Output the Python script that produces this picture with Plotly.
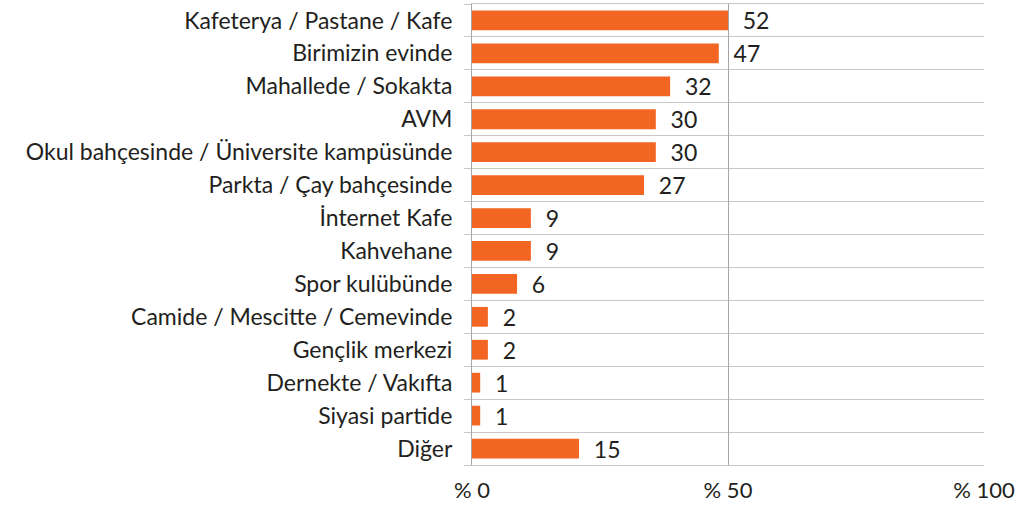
import plotly.graph_objects as go

categories = [
    "Kafeterya / Pastane / Kafe",
    "Birimizin evinde",
    "Mahallede / Sokakta",
    "AVM",
    "Okul bahçesinde / Üniversite kampüsünde",
    "Parkta / Çay bahçesinde",
    "İnternet Kafe",
    "Kahvehane",
    "Spor kulübünde",
    "Camide / Mescitte / Cemevinde",
    "Gençlik merkezi",
    "Dernekte / Vakıfta",
    "Siyasi partide",
    "Diğer",
]
# printed values
labels = [52, 47, 32, 30, 30, 27, 9, 9, 6, 2, 2, 1, 1, 15]
# bar lengths as drawn in the reference (on the % 0 - % 100 axis)
bar_lengths = [50.0, 48.2, 38.7, 35.9, 35.9, 33.6, 11.5, 11.5, 8.8, 3.1, 3.1, 1.6, 1.6, 20.9]
x_tickvals = [0, 50, 100]
x_ticktext = ["% 0", "% 50", "% 100"]

FONT = "Lato"
n = len(categories)
ypos = list(range(n))

fig = go.Figure(go.Bar(
    x=bar_lengths,
    y=ypos,
    orientation="h",
    marker=dict(color="#F26522", line=dict(width=0)),
    text=["  " + str(v) for v in labels],
    textposition="outside",
    constraintext="none",
    textfont=dict(family=FONT, size=23, color="#231F20"),
    cliponaxis=False,
    width=0.6,
    hoverinfo="skip",
))

fig.update_layout(
    width=1023, height=506,
    margin=dict(l=472, r=39, t=4, b=41, autoexpand=False),
    paper_bgcolor="white", plot_bgcolor="white",
    showlegend=False,
    font=dict(family=FONT, size=23, color="#231F20"),
)
fig.update_xaxes(
    range=[0, 100],
    tickmode="array", tickvals=x_tickvals, ticktext=x_ticktext,
    showgrid=True, gridcolor="#A6A6A6", gridwidth=1,
    zeroline=False, showline=True, mirror=True, linecolor="#C8C8C8", linewidth=1,
    ticks="", ticklabelstandoff=6,
    tickfont=dict(family=FONT, size=22, color="#231F20"),
    automargin=False,
)
fig.update_yaxes(
    range=[n - 0.5, -0.5],
    tickmode="array", tickvals=ypos, ticktext=categories,
    showgrid=False, zeroline=False,
    showline=True, linecolor="#A6A6A6", linewidth=1,
    ticks="", ticklabelstandoff=14,
    minor=dict(tick0=0.5, dtick=1, showgrid=True, gridcolor="#C8C8C8", gridwidth=1,
               ticks="outside", ticklen=7, tickcolor="#C8C8C8"),
    tickfont=dict(family=FONT, size=23, color="#231F20"),
    automargin=False,
)

fig.write_html("out.html", config={"displayModeBar": False},
               post_script="document.body.style.margin='0';document.body.style.padding='0';")
